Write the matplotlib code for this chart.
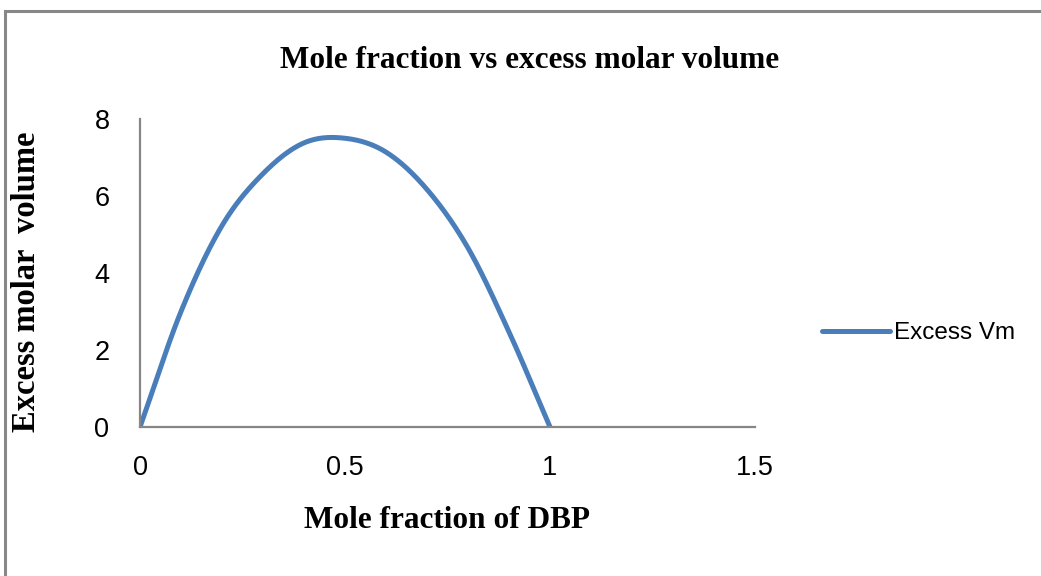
import numpy as np
import matplotlib
matplotlib.use("Agg")
import matplotlib.pyplot as plt
from matplotlib.patches import Rectangle

# =========================
# Data
# =========================

mole_fraction = [0.0, 0.1, 0.2, 0.3, 0.4, 0.5, 0.6, 0.7, 0.8, 0.9, 1.0]
excess_vm = [0.0, 3.0, 5.23, 6.58, 7.38, 7.5, 7.14, 6.17, 4.65, 2.47, 0.0]

x_ticks = [0, 0.5, 1, 1.5]
x_tick_labels = ["0", "0.5", "1", "1.5"]
y_ticks = [0, 2, 4, 6, 8]

title = "Mole fraction vs excess molar volume"
x_label = "Mole fraction of DBP"
y_label = "Excess molar  volume"
series_name = "Excess Vm"


def smooth_line(x, y, n=30):
    """
    Catmull-Rom style smoothing, like the 'smoothed line' option in a spreadsheet.
    """
    x = np.asarray(x, dtype=float)
    y = np.asarray(y, dtype=float)
    px = np.concatenate(([2 * x[0] - x[1]], x, [2 * x[-1] - x[-2]]))
    py = np.concatenate(([2 * y[0] - y[1]], y, [2 * y[-1] - y[-2]]))
    xs, ys = [], []
    t = np.linspace(0, 1, n, endpoint=False)
    for i in range(1, len(px) - 2):
        for arr, out in ((px, xs), (py, ys)):
            p0, p1, p2, p3 = arr[i - 1], arr[i], arr[i + 1], arr[i + 2]
            out.append(0.5 * ((2 * p1) + (-p0 + p2) * t
                              + (2 * p0 - 5 * p1 + 4 * p2 - p3) * t ** 2
                              + (-p0 + 3 * p1 - 3 * p2 + p3) * t ** 3))
    xs = np.concatenate(xs + [[x[-1]]])
    ys = np.concatenate(ys + [[y[-1]]])
    return xs, ys


W, H = 1041, 576
fig = plt.figure(figsize=(W / 100, H / 100), dpi=100)
fig.patch.set_facecolor("white")

# chart area border (only top and left edges visible in the picture)
fig.patches.append(Rectangle((5 / W, -0.1), 1.2, 1.1 - 11 / H,
                             transform=fig.transFigure, fill=False,
                             edgecolor="#878787", linewidth=2.2))

ax = fig.add_axes([140 / W, 1 - 427 / H, (755 - 140) / W, (427 - 119) / H])

sx, sy = smooth_line(mole_fraction, excess_vm)
ax.plot(sx, sy, color="#4a7ebb", linewidth=3.6, solid_capstyle="round",
        label=series_name)

ax.set_xlim(0, 1.5)
ax.set_ylim(0, 8)
ax.set_xticks(x_ticks)
ax.set_xticklabels(x_tick_labels)
ax.set_yticks(y_ticks)

for side in ("top", "right"):
    ax.spines[side].set_visible(False)
for side in ("left", "bottom"):
    ax.spines[side].set_color("#868686")
    ax.spines[side].set_linewidth(1.6)

ax.tick_params(axis="both", length=0, labelsize=19.5, colors="black")
ax.tick_params(axis="x", pad=20)
ax.tick_params(axis="y", pad=22)
for lab in ax.get_xticklabels() + ax.get_yticklabels():
    lab.set_family("Liberation Sans")

fig.text(530 / W, 1 - 60 / H, title, ha="center", va="center",
         family="Liberation Serif", weight="bold", size=22.5)
fig.text(447 / W, 1 - 521 / H, x_label, ha="center", va="center",
         family="Liberation Serif", weight="bold", size=22.5)
fig.text(27 / W, 1 - 282 / H, y_label, ha="center", va="center",
         rotation=90, family="Liberation Serif", weight="bold", size=23.5)

leg = ax.legend(loc="center left", bbox_to_anchor=(810 / W, 1 - 333 / H),
                bbox_transform=fig.transFigure, frameon=False,
                prop={"family": "Liberation Sans", "size": 17.5},
                handlelength=2.8, handletextpad=0.15, borderpad=0)

fig.savefig("out.png", dpi=100)
